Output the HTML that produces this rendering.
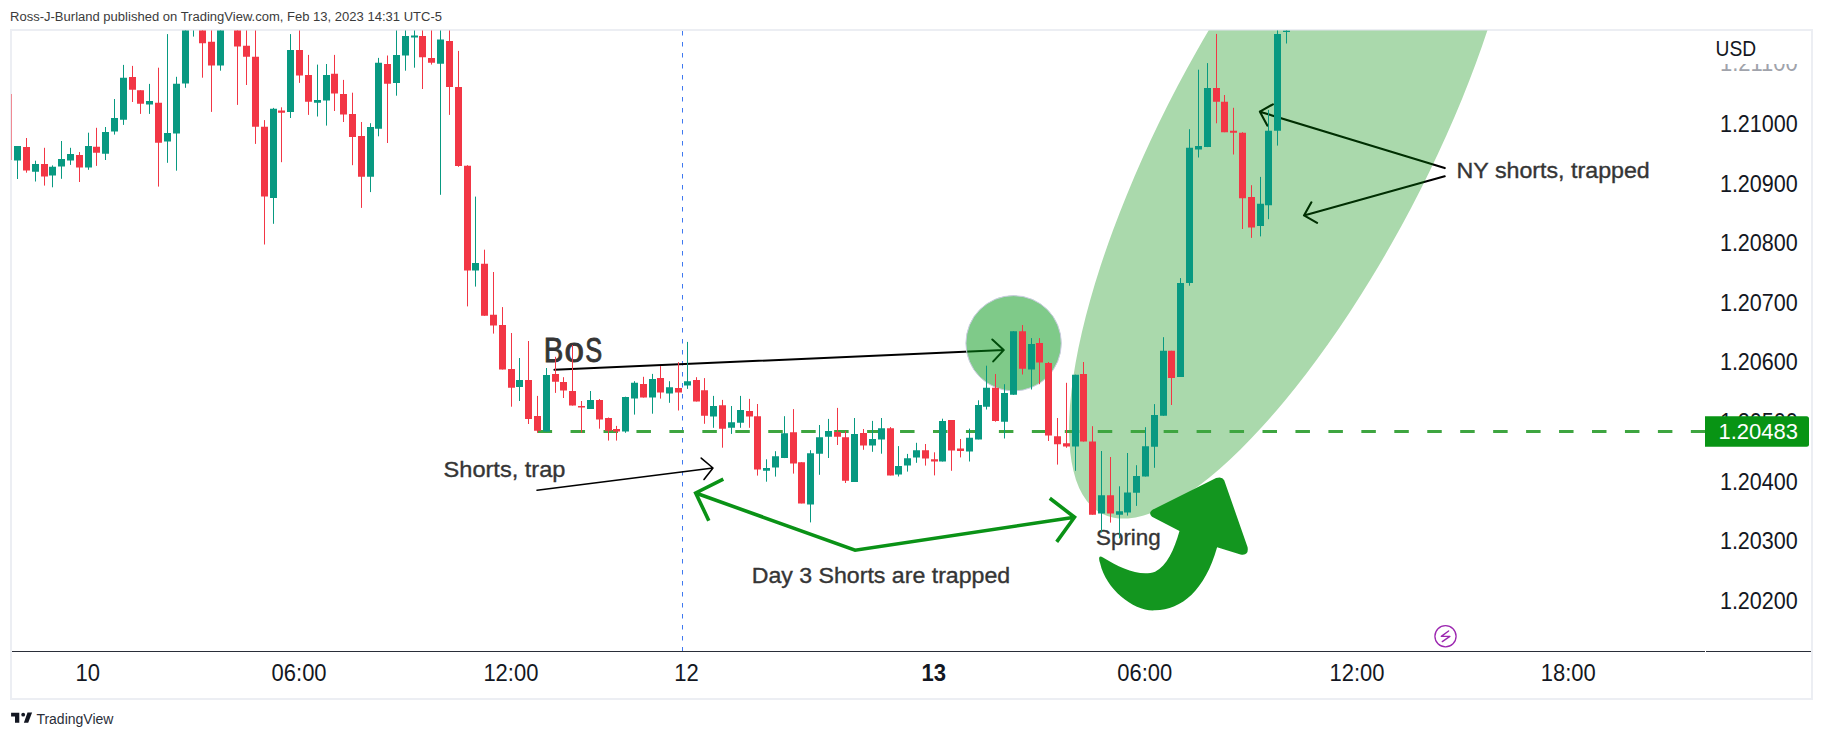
<!DOCTYPE html>
<html><head><meta charset="utf-8"><style>
html,body{margin:0;padding:0;background:#fff;width:1823px;height:738px;overflow:hidden}
svg{display:block;font-family:"Liberation Sans",sans-serif}
</style></head><body>
<svg width="1823" height="738" viewBox="0 0 1823 738">
<defs>
<clipPath id="pane"><rect x="12" y="30.5" width="1693.5" height="620.5"/></clipPath>
<clipPath id="axis"><rect x="1706" y="31" width="105" height="620"/></clipPath>
</defs>
<rect width="1823" height="738" fill="#fff"/>
<text x="10" y="20.8" font-size="12.5" fill="#3b3b3b" textLength="432" lengthAdjust="spacingAndGlyphs">Ross-J-Burland published on TradingView.com, Feb 13, 2023 14:31 UTC-5</text>
<rect x="11" y="30" width="1801" height="669" fill="none" stroke="#eceef3" stroke-width="2"/>
<path d="M11.5 94V160" stroke="#f08a93" stroke-width="1"/>
<path d="M12 651.5H1705M1706 651.5H1811" stroke="#2a2e39" stroke-width="1.2"/>
<g clip-path="url(#pane)">
<path d="M682.5 31V651" stroke="#3f78f0" stroke-width="1" stroke-dasharray="4.5 6.5"/>
<path d="M1444.7 168.1L1259.9 111.7M1272.9 104.3L1259.9 111.7L1267.3 125.6M1444.7 176.3L1304 215.4M1311.4 202.3L1304 215.4L1317.1 222.8" stroke="#000" stroke-width="2.1" fill="none" stroke-linecap="round" stroke-linejoin="round"/>
<ellipse cx="1294.4" cy="146.9" rx="414.2" ry="131.7" transform="rotate(-62.25 1294.4 146.9)" fill="#008d06" fill-opacity="0.333"/>
<path d="M554.4 369.7L1003.7 350.1M992.3 339.5L1003.7 350.1L993.2 361.4" stroke="#000" stroke-width="2" fill="none" stroke-linecap="round" stroke-linejoin="round"/>
<circle cx="1013.6" cy="343.3" r="47.7" fill="#009614" fill-opacity="0.5" stroke="#c9cbe0" stroke-width="1"/>
<path d="M537 490.2L713 468M701.2 458.1L713 468L704 479.5" stroke="#000" stroke-width="1.6" fill="none" stroke-linecap="round" stroke-linejoin="round"/>
<path d="M723.3 479.2L695.7 493L708.8 520.7M695.7 493L855.1 550.2L1074.5 517.2M1049.8 498.3L1074.5 517.2L1056.7 541.9" stroke="#0a9216" stroke-width="3.6" fill="none" stroke-linejoin="miter"/>
<path d="M537.6 431.5H1705" stroke="#3ea540" stroke-width="3" stroke-dasharray="14.5 18.45"/>
<path d="M1103 557.5C1120 568 1140 577 1155.1 571.7C1167 566 1174 550 1179.5 531L1152 516.8Q1147 512 1155.1 508.6L1216.1 478.1Q1222 476 1224.2 480.2L1247.6 547.3Q1249 556 1240.5 554.4L1217.1 547.3C1205 590 1182 610 1155.1 610.3C1135 612 1106 590 1100.2 563.5Q1097 554 1103 557.5Z" fill="#13961f"/>
<g fill="#353535" stroke="#353535" stroke-width="0.35" font-size="22">
<g font-size="35" fill="#353535" stroke="#353535" stroke-width="0.9"><text transform="translate(543.7 361.9) scale(0.84 1)">B</text><text transform="translate(564.6 361.9)">o</text><text transform="translate(585.2 361.9) scale(0.725 1)">S</text></g>
<text x="443.6" y="477" textLength="121.8" lengthAdjust="spacingAndGlyphs">Shorts, trap</text>
<text x="751.7" y="583.4" textLength="258.5" lengthAdjust="spacingAndGlyphs">Day 3 Shorts are trapped</text>
<text x="1096" y="545" textLength="64.7" lengthAdjust="spacingAndGlyphs">Spring</text>
<text x="1456.6" y="177.7" textLength="193.2" lengthAdjust="spacingAndGlyphs">NY shorts, trapped</text>
</g>
<path d="M17.5 146.1V179M35.5 160.7V181.5M52.5 165.4V187.3M61.5 141V178.8M70.5 147.8V164.9M88.5 132.7V169.8M105.5 127V160M114.5 99V134.6M123.5 64.9V124.9M149.5 83.9V113.9M167.5 34.1V162.8M176.5 76.8V170.7M185.5 20V87.8M193.5 20V36.6M220.5 20V70.7M273.5 107.9V223.8M290.5 34.1V118M317.5 64.6V116.5M326.5 64V125.6M370.5 123.2V192.1M378.5 57.9V136.3M396.5 20V95.7M405.5 20V70.7M414.5 20V67.7M440.5 20V194.8M475.5 196.6V286.6M519.5 358V401M546.5 368V431.6M590.5 391V408.9M625.5 396.7V432.8M634.5 381.2V414.6M652.5 373.9V413.7M669.5 381.2V402.8M687.5 341.9V388.9M713.5 395.9V427.8M731.5 406V433.9M740.5 395.9V427.8M766.5 459.3V481.7M775.5 451.2V476.6M784.5 416.2V458.1M810.5 450.2V522.4M819.5 425V474.8M828.5 418.9V458M854.5 418V481.9M872.5 420.9V451.8M881.5 418V453.7M898.5 446.1V476.5M907.5 453.9V471.6M916.5 442.8V462.8M942.5 418.7V461.5M969.5 428.6V461.5M978.5 400.3V439.4M986.5 365.7V409.5M1004.5 384.2V438.5M1013.5 331.2V394.8M1031.5 338.1V389.5M1075.5 374.7V470.8M1101.5 451V532.4M1119.5 486.3V538.4M1127.5 453V515.6M1136.5 465.2V505.9M1145.5 427.2V476.5M1154.5 404.1V467.8M1163.5 337.2V415.8M1180.5 278.1V377M1189.5 129.2V285.7M1198.5 69.7V157.5M1207.5 63.1V147.1M1260.5 176.9V236.4M1268.5 109.9V219.2M1277.5 20V145.6M1286.5 20V43.5" stroke="#089981" stroke-width="1" fill="none"/>
<path d="M14 146.1h7v14.4h-7zM32 164.1h7v7.6h-7zM49 166.8h7v8.8h-7zM58 159h7v7.6h-7zM67 153.9h7v6.6h-7zM85 145.9h7v21.7h-7zM102 132h7v21.7h-7zM111 118h7v13.5h-7zM120 77.8h7v42h-7zM146 101h7v3.6h-7zM164 133h7v8.5h-7zM173 83.8h7v49.7h-7zM182 20h7v63.5h-7zM190 20h7v1h-7zM217 20h7v45.5h-7zM270 108.8h7v89.1h-7zM287 50h7v61.9h-7zM314 100h7v2.7h-7zM323 75h7v25.6h-7zM367 127.1h7v49.7h-7zM375 62.8h7v65.9h-7zM393 54.9h7v28h-7zM402 36h7v19.5h-7zM411 35.4h7v2.1h-7zM437 39.6h7v24.1h-7zM472 263h7v7.4h-7zM516 380h7v6.9h-7zM543 375h7v56.6h-7zM587 400h7v8.9h-7zM622 397h7v34.6h-7zM631 382.8h7v15.8h-7zM649 379.1h7v18.5h-7zM666 387.2h7v6.2h-7zM684 381.2h7v4.4h-7zM710 406h7v10.6h-7zM728 422.3h7v5.5h-7zM737 410.1h7v12.6h-7zM763 467.9h7v2.8h-7zM772 456.3h7v11.2h-7zM781 433.3h7v24.8h-7zM807 453.2h7v51.3h-7zM816 437.3h7v16.4h-7zM825 431h7v5.8h-7zM851 433.9h7v48h-7zM869 439.1h7v6.5h-7zM878 428.2h7v11.4h-7zM895 466.1h7v8.5h-7zM904 458.3h7v7.3h-7zM913 450.2h7v7.3h-7zM939 421h7v40.5h-7zM966 437.8h7v13.8h-7zM975 404.9h7v34.5h-7zM983 387.8h7v18.9h-7zM1001 392.9h7v28.8h-7zM1010 331.2h7v63.6h-7zM1028 344.1h7v25.3h-7zM1072 374.7h7v71.8h-7zM1098 495.3h7v18.2h-7zM1116 511.2h7v3.6h-7zM1124 492.4h7v20h-7zM1133 476.1h7v16.7h-7zM1142 446.2h7v30.3h-7zM1151 415h7v31.7h-7zM1160 350.8h7v65h-7zM1177 283h7v94h-7zM1186 147.7h7v135.3h-7zM1195 145.9h7v3.6h-7zM1204 88.1h7v59h-7zM1257 203.7h7v22.3h-7zM1265 130.7h7v74.5h-7zM1274 33.9h7v96.8h-7zM1283 30.4h7v1.7h-7z" fill="#089981"/>
<path d="M8.5 94V160M26.5 138V172.7M44.5 147.8V185.6M79.5 152V182M96.5 127.8V165.9M132.5 65.9V102M140.5 90.2V113.9M158.5 67.7V186.6M202.5 20V77.7M211.5 20V111.9M237.5 20V104.9M246.5 20V85M255.5 20V143.9M264.5 120.1V244.5M281.5 107.3V162.2M299.5 30V82.9M308.5 54.9V114.9M334.5 54.9V111M343.5 79.9V122M352.5 92.7V165.2M361.5 122V207.9M387.5 55.5V143M422.5 20V89M431.5 20V64.6M449.5 20V114.9M458.5 50.9V166.8M467.5 165.2V306.4M484.5 249.7V315.8M493.5 272V333.6M502.5 307.1V369.5M511.5 333V406.7M528.5 341V424M537.5 395.9V432.8M555.5 356.8V392.9M563.5 377.2V398M572.5 345V405.6M581.5 401V432.8M599.5 399V428.7M608.5 417.5V440.6M616.5 425.9V440.6M643.5 376.8V397.6M660.5 366.1V398.6M678.5 362.2V410.5M696.5 377.2V401.5M704.5 378.1V423.8M722.5 399.9V447.7M749.5 398.9V427.8M757.5 404V475.6M793.5 409.1V473.6M801.5 462.2V503.4M837.5 407.9V445M845.5 431V483M863.5 429V449.8M890.5 427.1V475.4M925.5 444V465.6M934.5 452.3V475.4M951.5 420.1V470.8M960.5 439V457.4M995.5 374V421.7M1022.5 325V374.5M1039.5 338.1V384.2M1048.5 362V441M1057.5 418V464.6M1066.5 382.8V447.8M1083.5 362V441.6M1092.5 426.2V514.7M1110.5 457V522.6M1171.5 350.8V405M1216.5 33.9V123.3M1224.5 95V132.2M1233.5 107.8V154.5M1242.5 132.2V229M1251.5 185.2V237.9" stroke="#f23645" stroke-width="1" fill="none"/>
<path d="M5 94h7v66h-7zM23 147h7v23.5h-7zM41 164.1h7v12.5h-7zM76 154.9h7v12.7h-7zM93 146.8h7v5.9h-7zM129 77h7v12.8h-7zM137 90.2h7v13.5h-7zM155 102.7h7v40h-7zM199 20h7v23.3h-7zM208 41.8h7v23.7h-7zM234 20h7v26.6h-7zM243 45.7h7v11h-7zM252 56.7h7v70.1h-7zM261 126.8h7v69.8h-7zM278 110.4h7v2.4h-7zM296 50h7v25.6h-7zM305 75h7v26.8h-7zM331 73.8h7v19.8h-7zM340 93.9h7v20.7h-7zM349 114h7v22.9h-7zM358 136h7v40.8h-7zM384 64h7v19.8h-7zM419 36h7v21.3h-7zM428 57.9h7v4.9h-7zM446 40.9h7v46h-7zM455 86.9h7v79h-7zM464 165.8h7v104.6h-7zM481 263.8h7v52h-7zM490 314.7h7v10.9h-7zM499 324.9h7v44.6h-7zM508 369h7v18.7h-7zM525 380h7v39h-7zM534 415.9h7v14.9h-7zM552 373.9h7v7.8h-7zM560 382h7v8.5h-7zM569 391h7v14.6h-7zM578 406h7v1.6h-7zM596 400h7v19.4h-7zM605 418.1h7v12.7h-7zM613 428.9h7v2.7h-7zM640 384h7v13.6h-7zM657 378.1h7v14.5h-7zM675 387.9h7v4.7h-7zM693 380.1h7v21.4h-7zM701 390.2h7v25.5h-7zM719 405.2h7v23.6h-7zM746 411.1h7v5.5h-7zM754 416.2h7v53.3h-7zM790 432.3h7v31.1h-7zM798 462.2h7v41.2h-7zM834 432h7v4.8h-7zM842 437.2h7v43.5h-7zM860 433.1h7v12.5h-7zM887 428.2h7v47.2h-7zM922 450.2h7v8.4h-7zM931 459.2h7v2.3h-7zM948 420.1h7v30.4h-7zM957 448.6h7v2.4h-7zM992 387.8h7v33.2h-7zM1019 331.2h7v37.5h-7zM1036 342.9h7v19.6h-7zM1045 363h7v72.6h-7zM1054 436.2h7v8.1h-7zM1063 443.2h7v3.3h-7zM1080 373.9h7v67.7h-7zM1089 441.6h7v73.1h-7zM1107 495.3h7v18.2h-7zM1168 350.8h7v27.1h-7zM1213 88.1h7v13.7h-7zM1221 101.8h7v30.4h-7zM1230 130.7h7v2.1h-7zM1239 132.8h7v65.5h-7zM1248 197.1h7v30.4h-7z" fill="#f23645"/>


<circle cx="1445.5" cy="636.3" r="10.6" fill="none" stroke="#9c27b0" stroke-width="1.3"/>
<path d="M1448.6 631L1441.3 636.4H1449.9L1442.3 641.6" fill="none" stroke="#9c27b0" stroke-width="1.4" stroke-linejoin="round" stroke-linecap="round"/>
</g>
<g clip-path="url(#axis)">
<g font-size="23.2" fill="#131722">
<text x="1797.8" y="131.9" text-anchor="end" textLength="77.9" lengthAdjust="spacingAndGlyphs">1.21000</text>
<text x="1797.8" y="191.5" text-anchor="end" textLength="77.9" lengthAdjust="spacingAndGlyphs">1.20900</text>
<text x="1797.8" y="251.1" text-anchor="end" textLength="77.9" lengthAdjust="spacingAndGlyphs">1.20800</text>
<text x="1797.8" y="310.7" text-anchor="end" textLength="77.9" lengthAdjust="spacingAndGlyphs">1.20700</text>
<text x="1797.8" y="370.4" text-anchor="end" textLength="77.9" lengthAdjust="spacingAndGlyphs">1.20600</text>
<text x="1797.8" y="430" text-anchor="end" textLength="77.9" lengthAdjust="spacingAndGlyphs">1.20500</text>
<text x="1797.8" y="489.6" text-anchor="end" textLength="77.9" lengthAdjust="spacingAndGlyphs">1.20400</text>
<text x="1797.8" y="549.3" text-anchor="end" textLength="77.9" lengthAdjust="spacingAndGlyphs">1.20300</text>
<text x="1797.8" y="608.9" text-anchor="end" textLength="77.9" lengthAdjust="spacingAndGlyphs">1.20200</text>

</g>
<text x="1797.8" y="71.4" text-anchor="end" font-size="23.2" fill="#a0a3ab" textLength="77.9" lengthAdjust="spacingAndGlyphs">1.21100</text>
<rect x="1706" y="31" width="104" height="33" fill="#fff"/>
<text x="1715.6" y="55.5" font-size="22" fill="#131722" textLength="40.6" lengthAdjust="spacingAndGlyphs">USD</text>
</g>
<path d="M1705 416.3H1806.5Q1809 416.3 1809 418.8V444.3Q1809 446.8 1806.5 446.8H1705Z" fill="#089414"/>
<text x="1798" y="439.2" text-anchor="end" font-size="22" fill="#fff">1.20483</text>
<g font-size="23.2" fill="#131722" text-anchor="middle">
<text x="87.7" y="680.7" textLength="24.5" lengthAdjust="spacingAndGlyphs">10</text>
<text x="299.1" y="680.7" textLength="55.0" lengthAdjust="spacingAndGlyphs">06:00</text>
<text x="510.9" y="680.7" textLength="55.0" lengthAdjust="spacingAndGlyphs">12:00</text>
<text x="686.6" y="680.7" textLength="24.5" lengthAdjust="spacingAndGlyphs">12</text>
<text x="933.8" y="680.7" textLength="24.5" lengthAdjust="spacingAndGlyphs" font-weight="bold">13</text>
<text x="1144.8" y="680.7" textLength="55.0" lengthAdjust="spacingAndGlyphs">06:00</text>
<text x="1357" y="680.7" textLength="55.0" lengthAdjust="spacingAndGlyphs">12:00</text>
<text x="1568.2" y="680.7" textLength="55.0" lengthAdjust="spacingAndGlyphs">18:00</text>
</g>
<g fill="#131722">
<path d="M11.1 712.8H19.3V722.8H15V716.4H11.1Z"/>
<circle cx="23.2" cy="714.7" r="1.9"/>
<path d="M27.5 712.5H32.1L28.2 722.8H23.9Z"/>
</g>
<text x="36.4" y="723.9" font-size="14" fill="#2a2e39">TradingView</text>
</svg>
</body></html>
